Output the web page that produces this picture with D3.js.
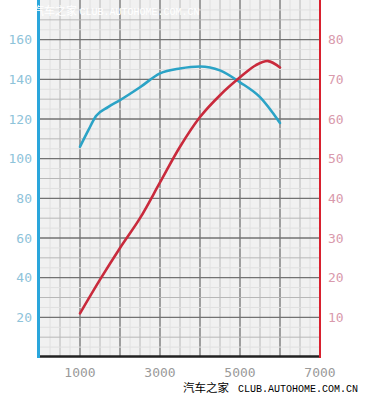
<!DOCTYPE html>
<html><head><meta charset="utf-8">
<script src="https://cdn.jsdelivr.net/npm/d3@7"></script>
<style>body{margin:0;background:#fff}svg{display:block}</style>
</head><body>
<script>
const xTicks = [1000, 3000, 5000, 7000];
const leftTicks = [20, 40, 60, 80, 100, 120, 140, 160];
const rightTicks = [10, 20, 30, 40, 50, 60, 70, 80];
const blueRpm = [1000, 1200, 1400, 1700, 2000, 2500, 3000, 3500, 4000, 4500, 5000, 5500, 6000];
const blueVal = [106, 114, 121.5, 126, 129.5, 136, 143, 145.5, 146.5, 144.5, 138.5, 131, 118];
const redRpm = [1000, 1500, 2000, 2500, 3000, 3500, 4000, 4500, 5000, 5400, 5700, 6000];
const redVal = [11, 19.5, 27.5, 35, 44, 53, 60.5, 66, 70.5, 73.6, 74.6, 73];

const W = 366, H = 398;
const svg = d3.select("body").append("svg").attr("width", W).attr("height", H);
const x = d3.scaleLinear().domain([0, 7000]).range([40, 320]);
const yL = d3.scaleLinear().domain([0, 180]).range([357, 0]);
const yR = d3.scaleLinear().domain([0, 90]).range([357, 0]);

// background
svg.append("rect").attr("x", x(0)).attr("y", 0).attr("width", x(7000) - x(0)).attr("height", yL(0)).attr("fill", "#f1f1f1");
const g = svg.append("g");
g.selectAll(".vf").data(d3.range(250, 7000, 250)).join("line")
  .attr("x1", d => x(d)).attr("x2", d => x(d)).attr("y1", 0).attr("y2", yL(0))
  .attr("stroke", d => d % 1000 === 0 ? "#727272" : d % 500 === 0 ? "#b8b8b8" : "#e0e0e0")
  .attr("stroke-width", d => d % 1000 === 0 ? 1.3 : 1);
g.selectAll(".hf").data(d3.range(5, 180, 5)).join("line")
  .attr("x1", x(0)).attr("x2", x(7000)).attr("y1", d => yL(d)).attr("y2", d => yL(d))
  .attr("stroke", d => d % 20 === 0 ? "#727272" : d % 10 === 0 ? "#b8b8b8" : "#e0e0e0")
  .attr("stroke-width", d => d % 20 === 0 ? 1.3 : 1);

// axes lines
svg.append("line").attr("x1", 38).attr("x2", 321).attr("y1", yL(0) - 0.5).attr("y2", yL(0) - 0.5).attr("stroke", "#222").attr("stroke-width", 2.5);
svg.append("line").attr("x1", 38.5).attr("x2", 38.5).attr("y1", 0).attr("y2", yL(0) + 1).attr("stroke", "#2aa6dc").attr("stroke-width", 3);
svg.append("line").attr("x1", x(7000)).attr("x2", x(7000)).attr("y1", 0).attr("y2", yL(0) + 1).attr("stroke", "#d8202e").attr("stroke-width", 2);

// tick labels
const font = "'DejaVu Sans Mono', monospace";
svg.selectAll(".lt").data(leftTicks).join("text")
  .attr("x", 32).attr("y", d => yL(d)).attr("dy", "0.36em").attr("text-anchor", "end")
  .attr("font-family", font).attr("font-size", 13).attr("fill", "#8ec3da").text(d => d);
svg.selectAll(".rt").data(rightTicks).join("text")
  .attr("x", 328).attr("y", d => yR(d)).attr("dy", "0.36em").attr("text-anchor", "start")
  .attr("font-family", font).attr("font-size", 13).attr("fill", "#d99aac").text(d => d);
svg.selectAll(".xt").data(xTicks).join("text")
  .attr("x", d => x(d)).attr("y", 377).attr("text-anchor", "middle")
  .attr("font-family", font).attr("font-size", 13).attr("fill", "#9a9a9a").text(d => d);

// curves
const blueLine = d3.line().x(d => x(d[0])).y(d => yL(d[1])).curve(d3.curveMonotoneX);
const redLine = d3.line().x(d => x(d[0])).y(d => yR(d[1])).curve(d3.curveCatmullRom.alpha(0.5));
svg.append("path").attr("d", blueLine(d3.zip(blueRpm, blueVal))).attr("fill", "none").attr("stroke", "#2ba3c6").attr("stroke-width", 2.6).attr("stroke-linecap", "round");
svg.append("path").attr("d", redLine(d3.zip(redRpm, redVal))).attr("fill", "none").attr("stroke", "#c92a3c").attr("stroke-width", 2.6).attr("stroke-linecap", "round");

// watermarks
const wm1 = svg.append("text").attr("x", 33).attr("y", 15).attr("font-size", 11).attr("fill", "#fff");
wm1.append("tspan").attr("font-family", "'Noto Sans CJK SC'").text("汽车之家 ");
wm1.append("tspan").attr("font-family", "'Liberation Mono', monospace").attr("font-size", 10).text("CLUB.AUTOHOME.COM.CN");
svg.append("text").attr("x", 183).attr("y", 392).attr("font-size", 11.5).attr("fill", "#000")
  .attr("font-family", "'Noto Sans CJK SC'").text("汽车之家");
svg.append("text").attr("x", 238).attr("y", 392).attr("font-size", 10).attr("fill", "#000")
  .attr("font-family", "'Liberation Mono', monospace")
  .text("CLUB.AUTOHOME.COM.CN");
</script>
</body></html>
